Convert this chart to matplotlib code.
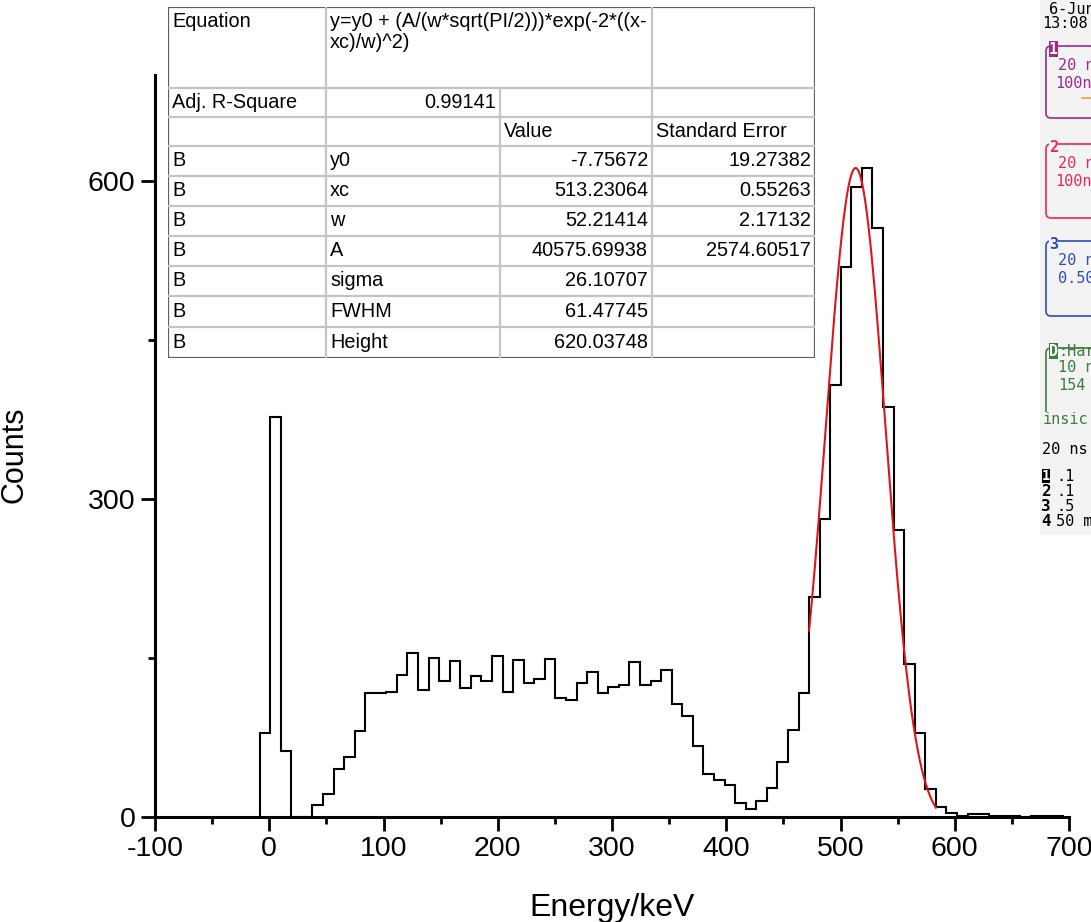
import numpy as np
import matplotlib.pyplot as plt
from matplotlib.patches import Rectangle, FancyBboxPatch

plt.rcParams['font.family'] = ['Liberation Sans', 'DejaVu Sans']
plt.rcParams['axes.unicode_minus'] = False

# histogram data (bin width 9.25 keV, first edge -8.5 keV)
bin_start = -8.5
bin_width = 9.25
counts = [79, 377, 62, 0, 0, 11, 22, 45, 57, 81,
          117, 117, 118, 134, 155, 120, 150, 128, 147, 122,
          133, 128, 152, 118, 148, 126, 130, 149, 112, 110,
          126, 137, 117, 123, 125, 146, 125, 128, 139, 107,
          95, 67, 41, 35, 30, 13, 8, 15, 27, 52,
          82, 117, 208, 281, 408, 519, 594, 612, 556, 387,
          271, 144, 79, 26, 9, 4, 1, 3, 3, 1,
          1, 1, 0, 1, 1, 1]

# gaussian fit results
fit_names = ["y0", "xc", "w", "A", "sigma", "FWHM", "Height"]
fit_values = ["-7.75672", "513.23064", "52.21414", "40575.69938",
              "26.10707", "61.47745", "620.03748"]
fit_errors = ["19.27382", "0.55263", "2.17132", "2574.60517", "", "", ""]
y0, xc, w, A = -7.75672, 513.23064, 52.21414, 40575.69938
fit_range = (472.5, 583.5)
adj_r2 = "0.99141"
equation = "y=y0 + (A/(w*sqrt(PI/2)))*exp(-2*((x-\nxc)/w)^2)"

W, H = 1091, 922
fig = plt.figure(figsize=(W / 100, H / 100), dpi=100)


def box(x0, y0_, x1, y1):
    # pixel box -> figure rect
    return [x0 / W, 1 - y1 / H, (x1 - x0) / W, (y1 - y0_) / H]


ax = fig.add_axes(box(155, 75, 1069, 817))
edges = bin_start + bin_width * np.arange(len(counts) + 1)
ax.stairs(counts, edges, color="black", linewidth=1.5)

xf = np.linspace(fit_range[0], fit_range[1], 300)
yf = y0 + A / (w * np.sqrt(np.pi / 2)) * np.exp(-2 * ((xf - xc) / w) ** 2)
ax.plot(xf, yf, color="#e0141b", linewidth=1.5)

ax.set_xlim(-100, 700)
ax.set_ylim(0, 700)
ax.set_xticks(np.arange(-100, 701, 100))
ax.set_xticks(np.arange(-50, 700, 100), minor=True)
ax.set_yticks([0, 300, 600])
ax.set_yticks([150, 450], minor=True)
ax.spines["top"].set_visible(False)
ax.spines["right"].set_visible(False)
for s in ["left", "bottom"]:
    ax.spines[s].set_linewidth(2.2)
ax.tick_params(which="major", direction="out", length=10, width=2, labelsize=20.5, pad=4)
ax.tick_params(which="minor", direction="out", length=5, width=2)
ax.set_xlabel("Energy/keV", fontsize=23, labelpad=22)
ax.set_ylabel("Counts", fontsize=22)
ax.yaxis.set_label_coords(-0.137, 0.488)
ax.patch.set_visible(False)

# fit results table
col_x = [168, 326, 500, 652, 815]
row_y = [7, 88, 117, 146, 176, 206, 236, 266, 296, 327, 358]
tab = fig.add_axes(box(col_x[0], row_y[0], col_x[-1], row_y[-1]))
tab.set_xlim(col_x[0], col_x[-1])
tab.set_ylim(row_y[-1], row_y[0])
tab.axis("off")
tab.add_patch(Rectangle((col_x[0], row_y[0]), col_x[-1] - col_x[0], row_y[-1] - row_y[0],
                        facecolor="white", edgecolor="none"))
lc = "#c4c4c4"
for yy in row_y[1:-1]:
    tab.plot([col_x[0], col_x[-1]], [yy, yy], color=lc, lw=1.6)
tab.plot([col_x[1]] * 2, [row_y[0], row_y[-1]], color=lc, lw=1.6)
tab.plot([col_x[2]] * 2, [row_y[1], row_y[-1]], color=lc, lw=1.6)
tab.plot([col_x[3]] * 2, [row_y[0], row_y[-1]], color=lc, lw=1.6)
tab.add_patch(Rectangle((col_x[0], row_y[0]), col_x[-1] - col_x[0], row_y[-1] - row_y[0],
                        facecolor="none", edgecolor="#606060", lw=1.6))

fs = 14.3
pad = 4
tab.text(col_x[0] + pad, row_y[0] + 5, "Equation", fontsize=fs, va="top")
tab.text(col_x[1] + pad, row_y[0] + 5, equation, fontsize=fs, va="top", linespacing=1.1)
ym = (row_y[1] + row_y[2]) / 2
tab.text(col_x[0] + pad, ym, "Adj. R-Square", fontsize=fs, va="center")
tab.text(col_x[2] - pad, ym, adj_r2, fontsize=fs, va="center", ha="right")
ym = (row_y[2] + row_y[3]) / 2
tab.text(col_x[2] + pad, ym, "Value", fontsize=fs, va="center")
tab.text(col_x[3] + pad, ym, "Standard Error", fontsize=fs, va="center")
for i, name in enumerate(fit_names):
    ym = (row_y[3 + i] + row_y[4 + i]) / 2
    tab.text(col_x[0] + pad, ym, "B", fontsize=fs, va="center")
    tab.text(col_x[1] + pad, ym, name, fontsize=fs, va="center")
    tab.text(col_x[3] - pad, ym, fit_values[i], fontsize=fs, va="center", ha="right")
    tab.text(col_x[4] - pad, ym, fit_errors[i], fontsize=fs, va="center", ha="right")

# cropped oscilloscope readout on the right
scope = fig.add_axes([0, 0, 1, 1])
scope.set_xlim(0, W)
scope.set_ylim(H, 0)
scope.axis("off")
scope.patch.set_visible(False)
bg = "#f3f3f3"
scope.add_patch(Rectangle((1040, 0), 60, 535, facecolor=bg, edgecolor="none"))
mono = dict(family="DejaVu Sans Mono", fontsize=11, va="center")
scope.text(1049, 9, "6-Jun", color="black", **mono)
scope.text(1042, 24, "13:08:", color="black", **mono)

groups = [
    ("1", "#9a2a8e", 46, 118, ["20 n", "100n"]),
    ("2", "#e8285a", 144, 218, ["20 n", "100n"]),
    ("3", "#2a4fb8", 241, 316, ["20 n", "0.50"]),
    ("D", "#3b7d3b", 348, 424, ["10 n", "154"]),
]
for lab, col, top, bot, lines in groups:
    scope.add_patch(FancyBboxPatch((1046, top), 120, bot - top,
                                   boxstyle="round,pad=0,rounding_size=5",
                                   facecolor="none", edgecolor=col, lw=1.2))
    if lab in ("1", "D"):
        scope.add_patch(Rectangle((1049, top - 5), 9, 16, facecolor=col, edgecolor="none"))
        scope.text(1053.5, top + 3, lab, color="white", fontsize=10.5, ha="center",
                   va="center", family="DejaVu Sans Mono", fontweight="bold")
    else:
        scope.add_patch(Rectangle((1049, top - 5), 9, 16, facecolor=bg, edgecolor="none"))
        scope.text(1053.5, top + 3, lab, color=col, fontsize=11, ha="center",
                   va="center", family="DejaVu Sans Mono", fontweight="bold")
    if lab == "D":
        scope.text(1058, top + 3, ":Har", color=col, **mono)
    for j, t in enumerate(lines):
        scope.text(1055 if t.startswith("100") else 1058, top + 19 + 18 * j, t,
                   color=col, **mono)
scope.plot([1082, 1092], [98, 98], color="#f0a040", lw=1.2)
scope.add_patch(Rectangle((1042, 412), 50, 14, facecolor=bg, edgecolor="none"))
scope.text(1043, 419, "insic", color="#3b7d3b", **mono)
scope.text(1042, 449, "20 ns", color="black", **mono)
for j, t in enumerate([".1", ".1", ".5", "50 m"]):
    yy = 476 + 15 * j
    if j == 0:
        scope.add_patch(Rectangle((1042, yy - 7), 8, 14, facecolor="black"))
        scope.text(1046, yy, "1", color="white", fontsize=10, ha="center", va="center",
                   family="DejaVu Sans Mono", fontweight="bold")
    else:
        scope.text(1046, yy, str(j + 1), color="black", fontsize=11.5, ha="center",
                   va="center", family="DejaVu Sans Mono", fontweight="bold")
    scope.text(1056, yy, t, color="black", **mono)

fig.savefig("out.png", dpi=100)
